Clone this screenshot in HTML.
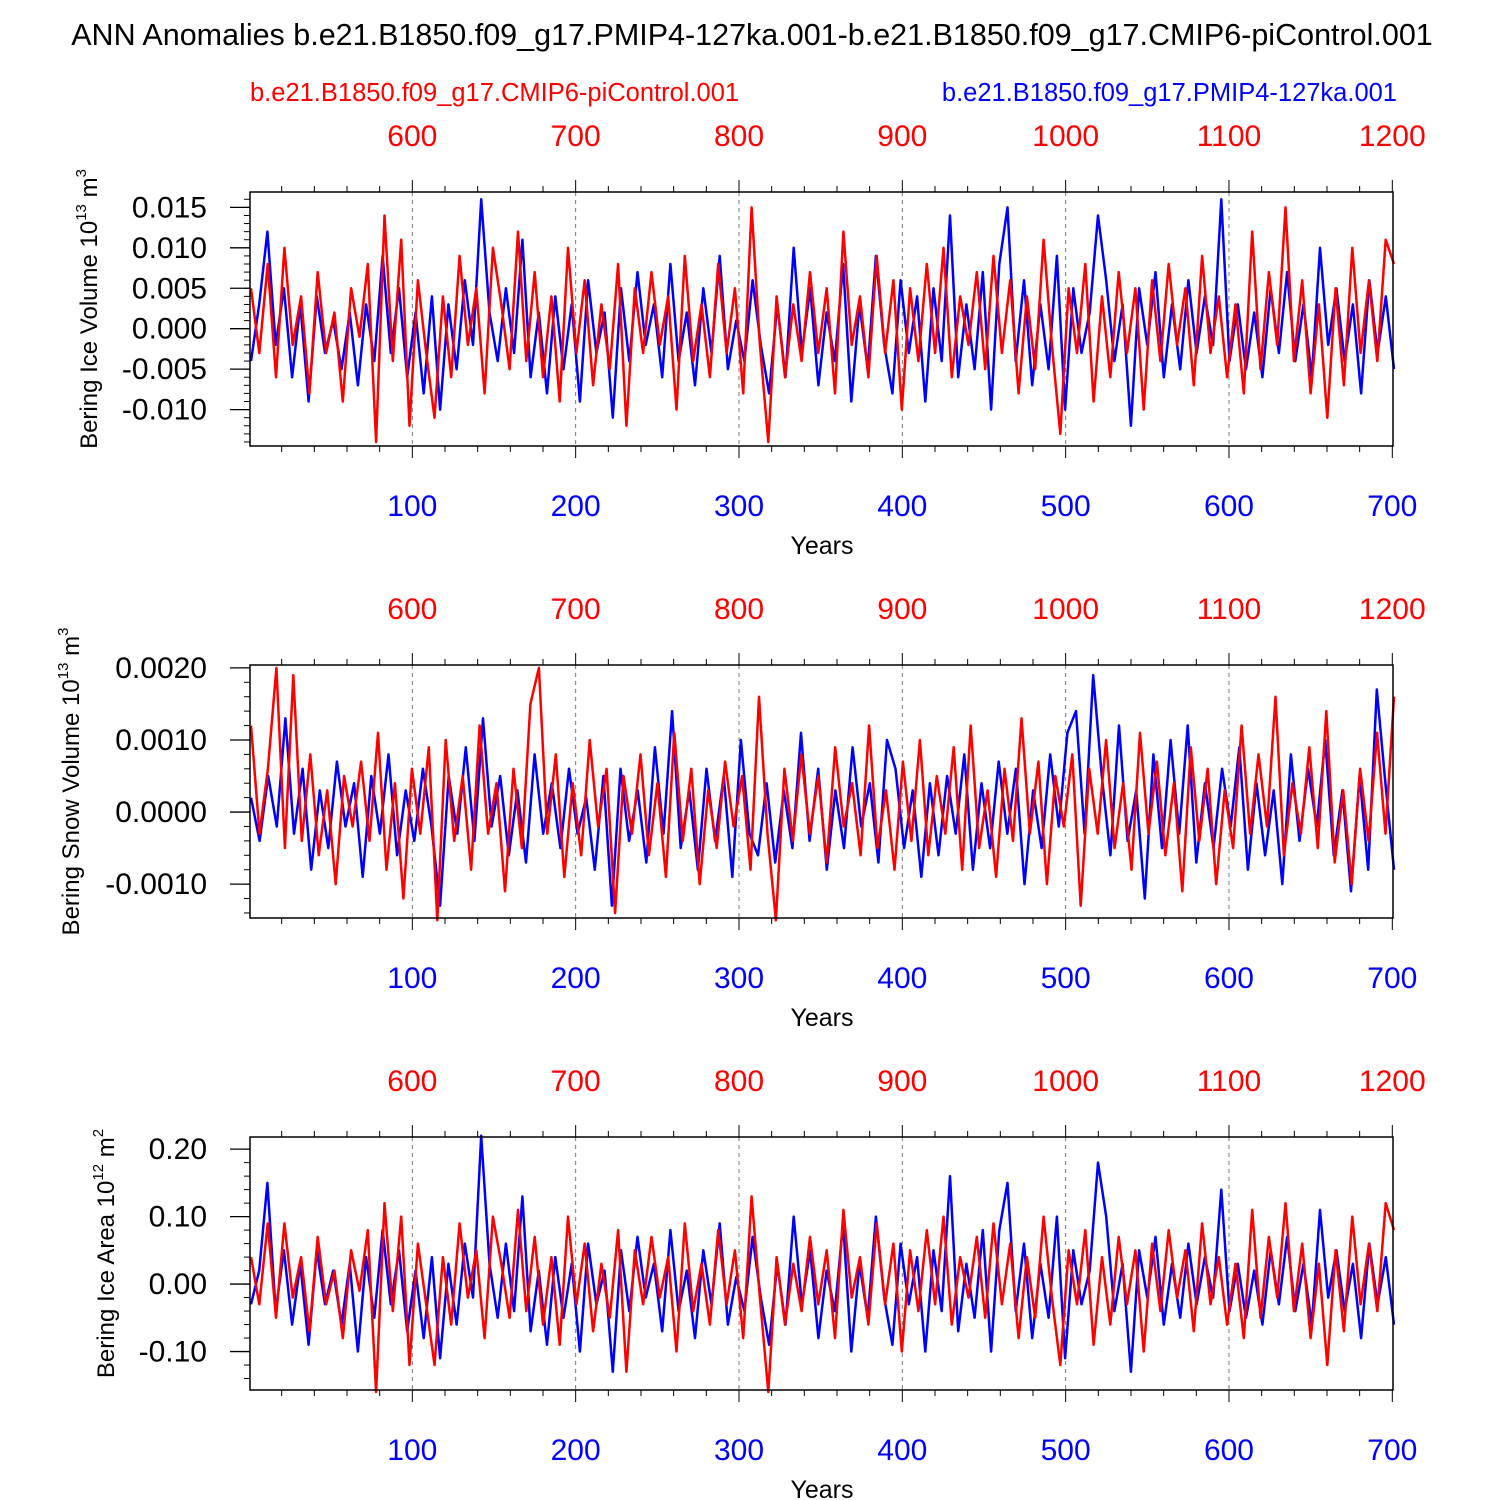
<!DOCTYPE html>
<html><head><meta charset="utf-8"><title>Bering anomalies</title>
<style>body{margin:0;background:#fff}svg{display:block;font-family:"Liberation Sans",sans-serif}</style></head>
<body>
<svg id="c" width="1500" height="1500" viewBox="0 0 1500 1500">
<text x="752" y="45" font-size="30.5" text-anchor="middle">ANN Anomalies b.e21.B1850.f09_g17.PMIP4-127ka.001-b.e21.B1850.f09_g17.CMIP6-piControl.001</text>
<text x="250" y="101" font-size="25.5" fill="#f00">b.e21.B1850.f09_g17.CMIP6-piControl.001</text>
<text x="1397" y="101" font-size="25.5" fill="#00f" text-anchor="end">b.e21.B1850.f09_g17.PMIP4-127ka.001</text>
</svg>
<script>
const blueIceVol=[-4,3,12,-2,5,-6,3,-9,4,-3,1,-5,2,-7,3,-4,9,-3,5,-6,2,-8,4,-10,3,-5,6,-2,16,2,-4,5,-3,11,-6,2,-8,4,-5,3,-9,6,-3,2,-11,5,-4,7,-2,3,-6,8,-4,2,-7,5,-3,9,-5,1,-4,6,-2,-8,3,-6,10,-3,5,-7,2,-4,8,-9,3,-5,9,-2,-8,6,-3,4,-9,5,-4,14,-6,3,-5,7,-10,8,15,-4,6,-7,3,-5,9,-10,5,-3,2,14,6,-4,3,-12,5,-2,7,-6,3,-5,6,-3,4,-2,16,-4,3,-5,2,-6,5,-3,7,-4,3,-6,10,-2,5,-4,3,-8,6,-3,4,-5];
const redIceVol=[5,-3,8,-6,10,-2,4,-8,7,-3,2,-9,5,-1,8,-14,14,-4,11,-12,6,-3,-11,4,-6,9,-2,5,-8,10,3,-5,12,-4,7,-6,4,-9,10,-3,6,-7,3,-5,8,-12,5,-3,7,-2,4,-10,9,-4,3,-6,8,-3,5,-8,15,-2,-14,4,-6,3,-4,7,-3,5,-8,12,-2,4,-6,9,-3,6,-10,5,-4,8,-3,10,-6,4,-2,7,-5,9,-3,6,-8,4,-5,11,-2,-13,5,-3,8,-9,4,-6,7,-3,5,-10,6,-4,8,-2,5,-7,9,-3,4,-6,3,-8,12,-5,7,-2,15,-4,6,-8,3,-11,5,-7,10,-3,6,-4,11,8];
const blueSnowVol=[2,-4,5,-2,13,-3,6,-8,3,-5,7,-2,4,-9,5,-3,8,-6,3,-4,6,-2,-13,5,-3,9,-4,13,-2,5,-6,3,-7,8,-3,4,-5,6,-3,2,-8,5,-13,6,-4,3,-7,9,-3,14,-5,3,-8,6,-4,5,-9,10,-3,-6,4,-7,3,-5,11,-4,6,-8,3,-5,9,-2,4,-7,10,6,-5,3,-9,4,-6,5,-3,8,-8,4,-5,7,-3,6,-10,3,-5,8,-2,11,14,-3,19,5,-6,12,-4,3,-12,8,-5,10,-3,12,-7,4,-5,6,-2,9,-8,4,-6,3,-10,8,-4,6,-2,10,-6,3,-11,5,-8,17,4,-8];
const redSnowVol=[12,-3,6,20,-5,19,-4,8,-6,3,-10,5,-2,7,-4,11,-8,4,-12,6,-3,9,-15,10,-4,5,-8,12,-3,4,-11,6,-5,15,20,-3,8,-9,4,-6,10,-2,6,-14,5,-3,8,-6,4,-9,11,-4,6,-10,3,-5,7,-2,5,-8,16,-3,-15,6,-4,8,-3,5,-7,9,-2,4,-6,12,-5,3,-8,7,-4,10,-6,5,-3,9,-8,12,-5,3,-9,6,-4,13,-3,7,-10,5,-2,8,-13,6,-3,10,-5,4,-8,11,-3,7,-6,4,-11,9,-4,6,-10,3,-5,12,-3,8,-2,16,-6,4,-3,9,-5,14,-7,3,-10,6,-4,11,-3,16];
const blueIceArea=[-3,2,15,-4,5,-6,3,-9,5,-3,2,-6,3,-10,4,-5,8,-3,5,-7,2,-8,4,-11,3,-6,6,-2,22,3,-5,6,-4,13,-7,2,-9,4,-5,3,-10,6,-3,2,-13,5,-4,7,-2,3,-7,8,-4,2,-8,5,-3,9,-6,1,-4,7,-2,-9,3,-6,10,-3,5,-8,2,-4,9,-10,3,-5,10,-2,-9,6,-3,4,-10,5,-4,16,-7,3,-5,8,-10,8,15,-4,6,-8,3,-5,10,-11,5,-3,2,18,10,-4,3,-13,5,-2,7,-6,3,-5,6,-3,4,-2,14,-4,3,-5,2,-6,5,-3,7,-4,3,-6,11,-2,5,-4,3,-8,6,-3,4,-6];
const redIceArea=[4,-3,9,-5,9,-2,4,-7,7,-3,2,-8,5,-1,8,-16,12,-4,10,-12,6,-3,-12,4,-6,9,-2,5,-8,10,3,-5,11,-4,7,-6,4,-9,10,-3,6,-7,3,-5,8,-13,5,-3,7,-2,4,-10,9,-4,3,-6,8,-3,5,-8,13,-2,-16,4,-6,3,-4,7,-3,5,-8,11,-2,4,-6,9,-3,6,-10,5,-4,8,-3,10,-6,4,-2,7,-5,9,-3,6,-8,4,-5,10,-2,-12,5,-3,8,-9,4,-6,7,-3,5,-10,6,-4,8,-2,5,-7,9,-3,4,-6,3,-8,11,-5,7,-2,12,-4,6,-8,3,-12,5,-7,10,-3,6,-4,12,8];
const xTicksBlue=[100,200,300,400,500,600,700];
const xTicksRed=["600","700","800","900","1000","1100","1200"];
const yTicks1=["0.015","0.010","0.005","0.000","-0.005","-0.010"];
const yTicks2=["0.0020","0.0010","0.0000","-0.0010"];
const yTicks3=["0.20","0.10","0.00","-0.10"];
const NS='http://www.w3.org/2000/svg';
const svg=document.getElementById('c');
function mk(t,a,p){const e=document.createElementNS(NS,t);for(const k in a)e.setAttribute(k,a[k]);(p||svg).appendChild(e);return e;}
const X0=250,X1=1393;
function xs(yr){return X0+(yr-1)/699*(X1-X0)+1;}
function xsT(yr){return 249+yr*1.6333;}
const panels=[
 {top:192,bot:446,ymax:0.0169,ymin:-0.0145,ticks:yTicks1,minor:0.001,scale:1e-3,blue:blueIceVol,red:redIceVol,label:'Bering Ice Volume 10',exp:'13',unit:'m',uexp:'3',lx:97,name:'ice-volume'},
 {top:665,bot:918,ymax:0.00204,ymin:-0.00147,ticks:yTicks2,minor:0.0002,scale:1e-4,blue:blueSnowVol,red:redSnowVol,label:'Bering Snow Volume 10',exp:'13',unit:'m',uexp:'3',lx:79,name:'snow-volume'},
 {top:1137,bot:1390,ymax:0.218,ymin:-0.157,ticks:yTicks3,minor:0.02,scale:1e-2,blue:blueIceArea,red:redIceArea,label:'Bering Ice Area 10',exp:'12',unit:'m',uexp:'2',lx:114,name:'ice-area'}];
panels.forEach(p=>{
 const g=mk('g',{});
 
 
 const ys=v=>p.top+(p.ymax-v)/(p.ymax-p.ymin)*(p.bot-p.top);
 xTicksBlue.slice(0,6).forEach(t=>{mk('line',{x1:xsT(t),x2:xsT(t),y1:p.top,y2:p.bot,stroke:'#777','stroke-dasharray':'4,4','stroke-width':1},g);});
 [['blue','#00f'],['red','#f00']].forEach(([k,c])=>{
  const arr=p[k];const n=arr.length;
  const pts=arr.map((v,i)=>xs(1+i*699/(n-1)).toFixed(1)+','+ys(v*p.scale).toFixed(1)).join(' ');
  const pl=mk('polyline',{points:pts,fill:'none',stroke:c,'stroke-width':2.5,'stroke-linejoin':'round'},g);
  
  
 });
 mk('rect',{x:X0,y:p.top,width:X1-X0,height:p.bot-p.top,fill:'none',stroke:'#000','stroke-width':1.5},g);
 for(let v=Math.ceil(p.ymin/p.minor)*p.minor;v<=p.ymax;v+=p.minor){const y=ys(v);mk('line',{x1:X0-6,x2:X0,y1:y,y2:y,stroke:'#000'},g);}
 p.ticks.forEach(t=>{const y=ys(parseFloat(t));mk('line',{x1:X0-20,x2:X0,y1:y,y2:y,stroke:'#000','stroke-width':1.3},g);
  const tx=mk('text',{x:X0-43,y:y+10,'font-size':30,'text-anchor':'end'},g);tx.textContent=t;
  });
 for(let yr=20;yr<=700;yr+=20){const x=xsT(yr);const L=yr%100===0?12:6;
  mk('line',{x1:x,x2:x,y1:p.top-L,y2:p.top,stroke:'#000'},g);mk('line',{x1:x,x2:x,y1:p.bot,y2:p.bot+L,stroke:'#000'},g);}
 xTicksBlue.forEach((t,i)=>{const x=xsT(t);
  const b=mk('text',{x:x,y:p.bot+70,'font-size':30,fill:'#00f','text-anchor':'middle'},g);b.textContent=t;
  
  const r=mk('text',{x:x,y:p.top-46,'font-size':30,fill:'#f00','text-anchor':'middle'},g);r.textContent=xTicksRed[i];
  });
 const xt=mk('text',{x:822,y:p.bot+108,'font-size':25,'text-anchor':'middle'},g);xt.textContent='Years';
 
 const cy=(p.top+p.bot)/2-10;
 const yl=mk('text',{x:p.lx,y:cy,'font-size':24,'text-anchor':'middle',transform:`rotate(-90 ${p.lx} ${cy})`},g);
 
 yl.innerHTML=p.label+'<tspan font-size="15" dy="-11">'+p.exp+'</tspan><tspan dy="11"> '+p.unit+'</tspan><tspan font-size="15" dy="-11">'+p.uexp+'</tspan>';
});
</script>
</body></html>
